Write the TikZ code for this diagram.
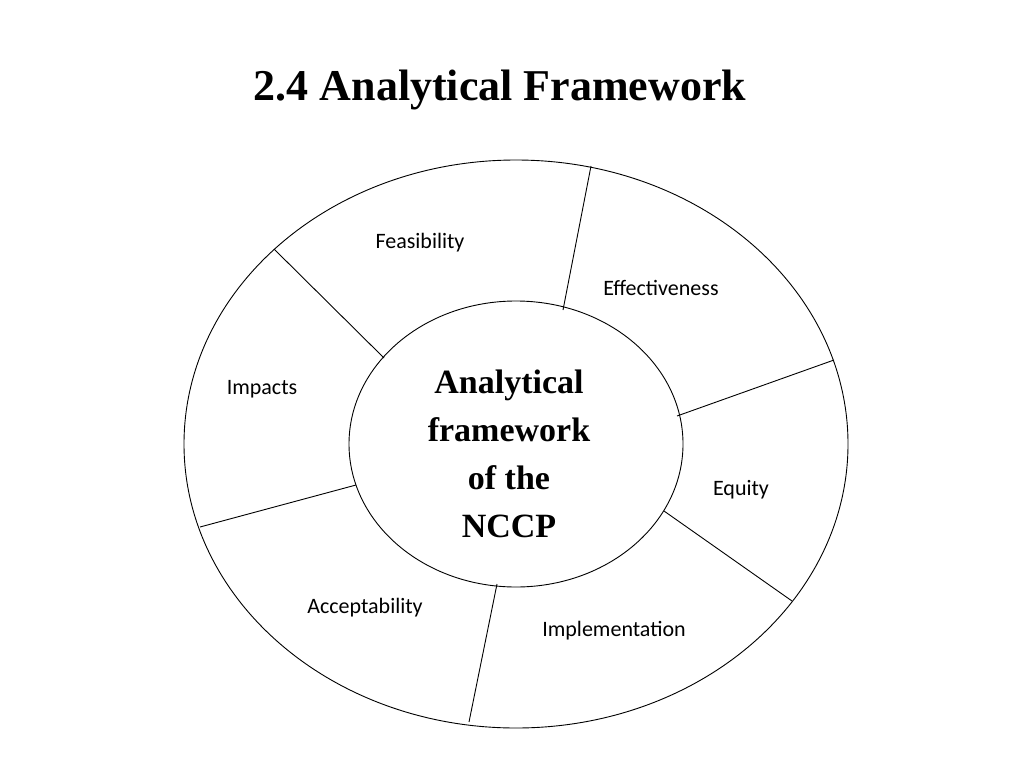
\documentclass[tikz,border=0pt]{standalone}
\usepackage{fontspec}
\setmainfont{Liberation Serif}
\newfontfamily\lblfont{Carlito}
\begin{document}
\begin{tikzpicture}[x=1pt,y=-1pt,
  lbl/.style={font=\lblfont\fontsize{22}{26}\selectfont},
  seg/.style={draw=black,line width=0.9pt}]
\useasboundingbox (0,0) rectangle (1024,768);
\node (title) at (500,90) {\fontsize{44}{50}\bfseries\selectfont 2.4 Analytical Framework};
\draw[seg] (516,444) ellipse [x radius=332, y radius=284];
\draw[seg] (516,444) ellipse [x radius=167, y radius=143];
\node[align=center,font=\fontsize{34}{48}\bfseries\selectfont] (center) at (509,454) {Analytical\\framework\\of the\\NCCP};
\draw[seg] (591,166) -- (563,310);
\draw[seg] (834,360) -- (677,416);
\draw[seg] (792,601) -- (664,511);
\draw[seg] (497,584) -- (469,722);
\draw[seg] (356,485) -- (200,527);
\draw[seg] (274,249) -- (384,358);
\node[lbl] (f) at (420,243) {Feasibility};
\node[lbl] (e) at (661,288) {Effectiveness};
\node[lbl] (i) at (262,389) {Impacts};
\node[lbl] (q) at (741,490) {Equity};
\node[lbl] (a) at (365,608) {Acceptability};
\node[lbl] (m) at (614,631) {Implementation};
\end{tikzpicture}
\end{document}
